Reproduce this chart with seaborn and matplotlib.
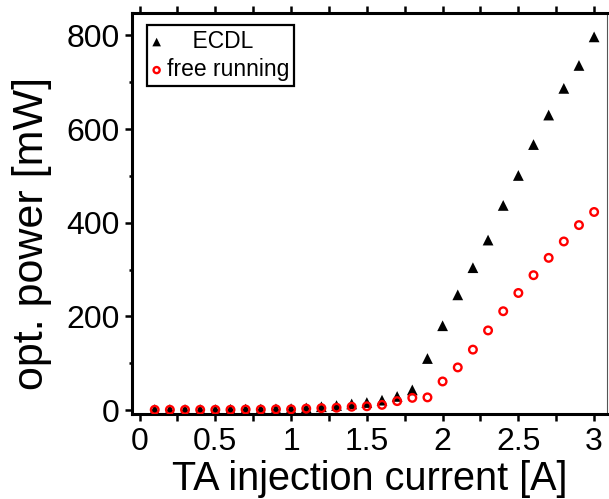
import matplotlib
matplotlib.use("Agg")
import matplotlib.pyplot as plt
import seaborn as sns
import pandas as pd

current = [0.1, 0.2, 0.3, 0.4, 0.5, 0.6, 0.7, 0.8, 0.9, 1.0,
           1.1, 1.2, 1.3, 1.4, 1.5, 1.6, 1.7, 1.8, 1.9, 2.0,
           2.1, 2.2, 2.3, 2.4, 2.5, 2.6, 2.7, 2.8, 2.9, 3.0]
ecdl = [1, 1, 1, 1, 1, 1.5, 2, 2, 2.5, 3,
        4.5, 7, 9.5, 13, 16, 21, 29, 43, 110, 180,
        246, 304, 363, 437, 501, 567, 630, 687, 736, 797]
free_running = [0.5, 0.5, 0.5, 0.5, 0.5, 0.5, 1, 1, 1.5, 1.5,
                3, 4, 5, 7, 8, 11, 19, 26, 27, 61,
                91, 129, 170, 211, 250, 288, 325, 360, 395, 423]
series_labels = ["ECDL", "free running"]
x_label = "TA injection current [A]"
y_label = "opt. power [mW]"
x_ticks = [0, 0.5, 1, 1.5, 2, 2.5, 3]
x_ticklabels = ["0", "0.5", "1", "1.5", "2", "2.5", "3"]
y_ticks = [0, 200, 400, 600, 800]

sns.set_theme(style="white")
plt.rcParams["font.family"] = ["Liberation Sans", "DejaVu Sans"]
plt.rcParams["text.color"] = "black"
plt.rcParams["axes.labelcolor"] = "black"
plt.rcParams["xtick.color"] = "black"
plt.rcParams["ytick.color"] = "black"

df = pd.DataFrame({"current": current, "ecdl": ecdl, "free": free_running})

fig = plt.figure(figsize=(6.09, 4.99), dpi=100)
ax = fig.add_axes([132 / 609, 1 - 414 / 499, 475 / 609, 401 / 499])

sns.scatterplot(data=df, x="current", y="ecdl", marker="^", s=60, color="black",
                edgecolor="none", linewidth=0, ax=ax, label="    " + series_labels[0], zorder=3)
sns.scatterplot(data=df, x="current", y="free", marker="o", s=30, facecolors="none",
                edgecolor="#ff0000", linewidth=1.7, ax=ax, label=series_labels[1], zorder=4)

ax.set_xlim(-0.05, 3.085)
ax.set_ylim(-8.5, 848)
ax.set_xticks(x_ticks)
ax.set_xticklabels(x_ticklabels)
ax.set_xticks([0.25, 0.75, 1.25, 1.75, 2.25, 2.75], minor=True)
ax.set_yticks(y_ticks)
ax.set_yticks([100, 300, 500, 700], minor=True)

for side in ["left", "bottom", "top"]:
    ax.spines[side].set_linewidth(2.2)
    ax.spines[side].set_color("black")
ax.spines["right"].set_linewidth(0.8)
ax.spines["right"].set_color("#555555")

ax.tick_params(axis="both", which="both", direction="out", width=1.8, color="black",
               labelcolor="black")
ax.tick_params(axis="x", which="both", bottom=True, top=True, length=5)
ax.tick_params(axis="y", which="major", left=True, length=5)
ax.tick_params(axis="y", which="minor", left=True, length=2.5)
ax.tick_params(axis="both", which="major", labelsize=23, pad=4)

ax.set_xlabel(x_label, fontsize=28.5, color="black")
ax.set_ylabel(y_label, fontsize=31, color="black")
ax.xaxis.set_label_coords(0.5, -0.115)
ax.yaxis.set_label_coords(-0.168, 0.45)

leg = ax.legend(loc="upper left", bbox_to_anchor=(0.0316, 0.970), borderaxespad=0,
                fontsize=16.5, frameon=True, fancybox=False, framealpha=1,
                edgecolor="black", handlelength=0.4, handletextpad=0.25,
                borderpad=0.22, labelspacing=0.22, markerscale=0.8)
leg.get_frame().set_linewidth(1.6)
for t in leg.get_texts():
    t.set_color("black")

fig.savefig("out.png", dpi=100)
